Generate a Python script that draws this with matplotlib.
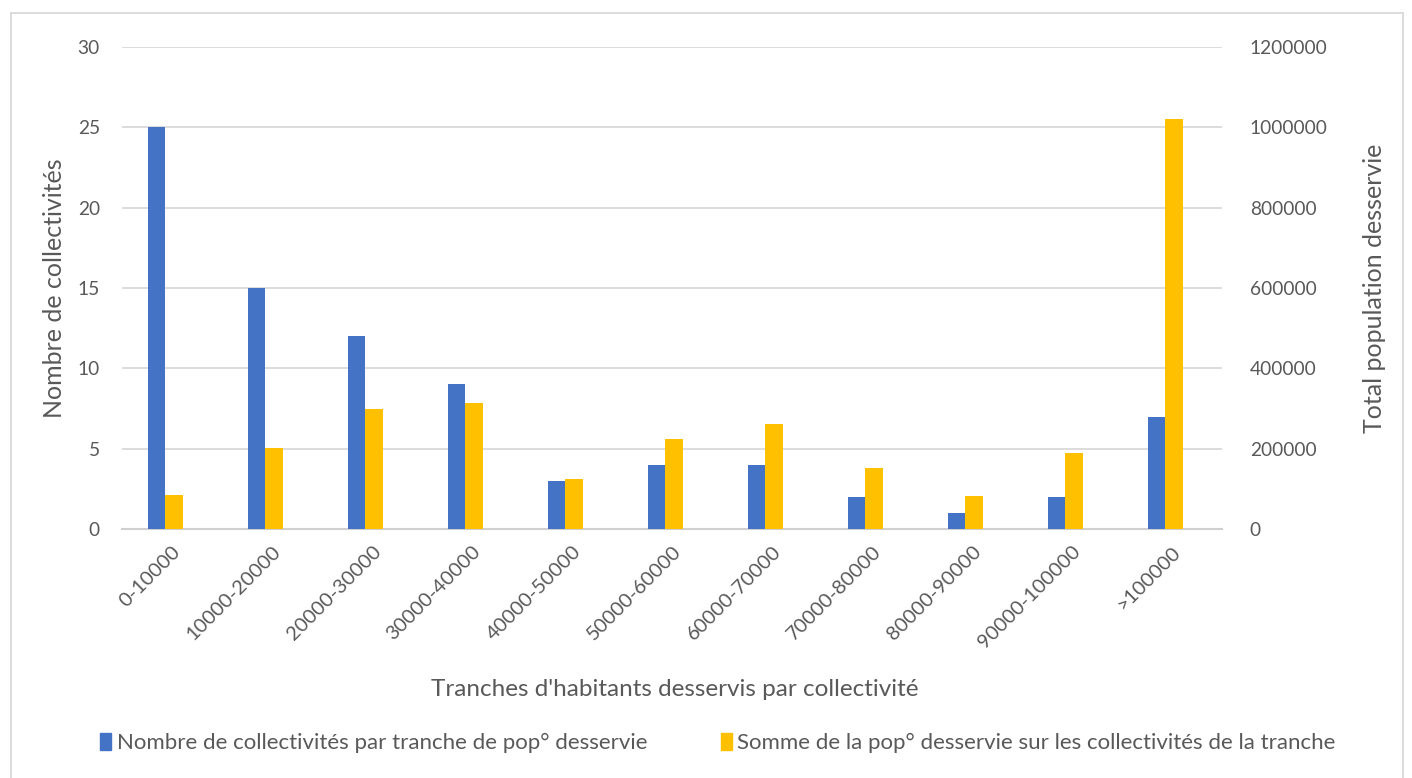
import matplotlib
matplotlib.use("Agg")
import matplotlib.pyplot as plt
from matplotlib.patches import Patch
from matplotlib.lines import Line2D
import numpy as np

plt.rcParams["font.family"] = ["Lato", "DejaVu Sans"]

categories = ["0-10000", "10000-20000", "20000-30000", "30000-40000", "40000-50000",
              "50000-60000", "60000-70000", "70000-80000", "80000-90000",
              "90000-100000", ">100000"]
nb_collectivites = [25, 15, 12, 9, 3, 4, 4, 2, 1, 2, 7]
pop_desservie = [85000, 202000, 299000, 314000, 125000, 223000, 262000, 153000,
                 82000, 190000, 1021000]

label_blue = "Nombre de collectivités par tranche de pop° desservie"
label_yellow = "Somme de la pop° desservie sur les collectivités de la tranche"

BLUE = "#4472C4"
YELLOW = "#FFC000"
TEXT = "#595959"
GRID = "#D9D9D9"

W, H = 1412, 778
fig = plt.figure(figsize=(W / 100, H / 100), dpi=100)

# plot area in pixels: x 122..1222, y 47..529
ax = fig.add_axes([122 / W, 1 - 529 / H, 1100 / W, 482 / H])
ax2 = ax.twinx()

x = np.arange(len(categories))
bw = 0.172
ax.bar(x - 0.155, nb_collectivites, width=bw, color=BLUE, zorder=3)
ax2.bar(x + 0.02, pop_desservie, width=bw + 0.01, color=YELLOW, zorder=3)

ax.set_xlim(-0.5, len(categories) - 0.5)
ax.set_ylim(0, 30)
ax.set_yticks(np.arange(0, 31, 5))
ax2.set_ylim(0, 1200000)
ax2.set_yticks(np.arange(0, 1200001, 200000))
ax2.set_yticklabels([str(v) for v in range(0, 1200001, 200000)])

ax.yaxis.grid(True, color=GRID, linewidth=1.3, zorder=0)
ax.set_axisbelow(True)
for a in (ax, ax2):
    for s in a.spines.values():
        s.set_visible(False)
    a.tick_params(length=0, labelsize=13.8, colors=TEXT)
ax.spines["bottom"].set_visible(True)
ax.spines["bottom"].set_color("#D0D0D0")
ax.spines["bottom"].set_linewidth(1.5)

ax.set_xticks(x)
ax.set_xticklabels(categories, rotation=45, ha="right", rotation_mode="anchor",
                   fontsize=14.5)
ax.tick_params(axis="x", pad=10)
ax.tick_params(axis="y", pad=16)
ax2.tick_params(axis="y", pad=20)

ax.set_ylabel("Nombre de collectivités", fontsize=18, color=TEXT)
ax2.set_ylabel("Total population desservie", fontsize=18, color=TEXT)
ax.yaxis.set_label_coords(-(122 - 66) / 1100, 0.5)
ax2.yaxis.set_label_coords((1363 - 122) / 1100, 0.5)
fig.text(675 / W, 1 - 690 / H, "Tranches d'habitants desservis par collectivité",
         fontsize=17.5, color=TEXT, ha="center", va="center")

handles = [Patch(color=BLUE), Patch(color=YELLOW)]
leg = fig.legend(handles, [label_blue, label_yellow], loc="center",
                 bbox_to_anchor=(718 / W, 1 - 743 / H), ncol=2, frameon=False,
                 fontsize=16, handlelength=0.5, handleheight=0.8, handletextpad=0.25,
                 columnspacing=3.3, labelcolor=TEXT)

# light chart border
for seg in (([11, 11], [13, 778]), ([11, 1403], [13, 13]), ([1403, 1403], [13, 778])):
    fig.add_artist(Line2D([p / W for p in seg[0]], [1 - p / H for p in seg[1]],
                          color="#D9D9D9", linewidth=1.3))

fig.savefig("out.png", dpi=100)
